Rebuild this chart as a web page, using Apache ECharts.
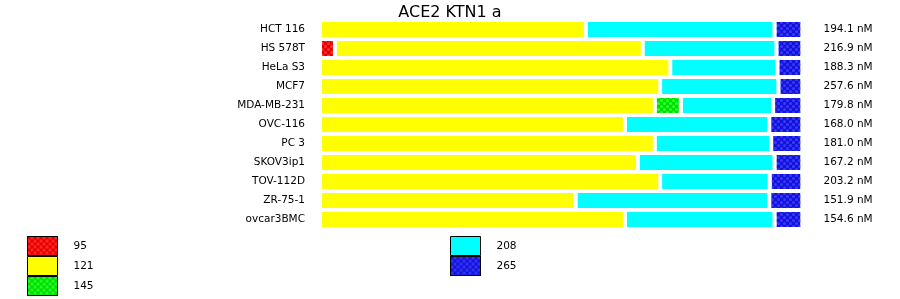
<!DOCTYPE html>
<html>
<head>
<meta charset="utf-8">
<script src="https://cdn.jsdelivr.net/npm/echarts@6/dist/echarts.min.js"></script>
<style>
html,body{margin:0;padding:0;background:#fff;}
#c{width:900px;height:299px;}
</style>
</head>
<body>
<div id="c"></div>
<script>
// Data (percent of row total)
const categories = ['HCT 116','HS 578T','HeLa S3','MCF7','MDA-MB-231','OVC-116','PC 3','SKOV3ip1','TOV-112D','ZR-75-1','ovcar3BMC'];
const totals = ['194.1 nM','216.9 nM','188.3 nM','257.6 nM','179.8 nM','168.0 nM','181.0 nM','167.2 nM','203.2 nM','151.9 nM','154.6 nM'];
const seriesNames = ['95','121','145','208','265'];
const s95  = [0, 3.1, 0, 0, 0, 0, 0, 0, 0, 0, 0];
const s121 = [55.1, 63.8, 72.6, 70.5, 69.4, 63.2, 69.4, 65.9, 70.5, 53.0, 63.2];
const s145 = [0, 0, 0, 0, 5.4, 0, 0, 0, 0, 0, 0];
const s208 = [39.1, 27.7, 22.2, 24.5, 19.1, 29.9, 24.1, 28.3, 22.7, 40.1, 31.0];
const s265 = [5.8, 5.4, 5.2, 5.0, 6.1, 6.9, 6.5, 5.8, 6.8, 6.9, 5.8];

const FONT = 'DejaVu Sans';
function decal(c){
  return {symbol:'circle', symbolSize:1, color:c, dashArrayX:[[3,3],[0,3,3,0]], dashArrayY:[3,0]};
}
const styles = [
  {color:'#e60000', decal:decal('#ff3030')},
  {color:'#ffff00'},
  {color:'#00dd00', decal:decal('#30ff30')},
  {color:'#00ffff'},
  {color:'#1414d8', decal:decal('#3a3aff')}
];
const values = [s95, s121, s145, s208, s265];

const legendCommon = {orient:'vertical', top:236, height:80, padding:0, itemWidth:30, itemHeight:19, itemGap:0, icon:'rect',
  selectedMode:false, itemStyle:{borderColor:'#000', borderWidth:1},
  textStyle:{fontFamily:FONT, fontSize:10.5, color:'#000', padding:[0,0,0,11]}};

const chart = echarts.init(document.getElementById('c'), null, {renderer:'canvas'});
chart.setOption({
  animation:false,
  backgroundColor:'#fff',
  title:{text:'ACE2 KTN1 a', left:'center', top:0, textStyle:{fontFamily:FONT, fontSize:16, fontWeight:'normal', color:'#000'}},
  grid:{left:320, right:97.5, top:20, height:209},
  xAxis:{type:'value', min:0, max:100, show:false},
  yAxis:[
    {type:'category', data:categories, inverse:true, axisLine:{show:false}, axisTick:{show:false},
     axisLabel:{fontFamily:FONT, fontSize:10.5, color:'#000', margin:15}},
    {type:'category', data:totals, inverse:true, position:'right', axisLine:{show:false}, axisTick:{show:false},
     axisLabel:{fontFamily:FONT, fontSize:10.5, color:'#000', margin:21, align:'left'}}
  ],
  legend:[
    Object.assign({data:['95','121','145'], left:27}, legendCommon),
    Object.assign({data:['208','265'], left:450}, legendCommon)
  ],
  series: seriesNames.map((n,i)=>({
    name:n, type:'bar', stack:'t', data:values[i], barCategoryGap:'0%',
    itemStyle:Object.assign({borderColor:'#fff', borderWidth:2}, styles[i])
  }))
});
</script>
</body>
</html>
